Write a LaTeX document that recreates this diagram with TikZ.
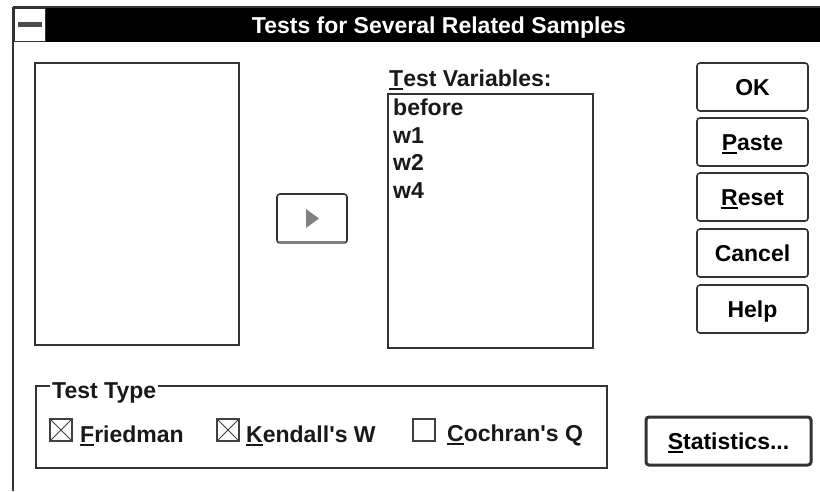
\documentclass[tikz,border=0pt]{standalone}
\usepackage{fontspec}
\setmainfont{Liberation Sans}[Ligatures=TeXOff]
% access-key underline under a single letter
\newcommand\hot[1]{\setbox0\hbox{#1}\rlap{\rule[-3.5pt]{\wd0}{1.8pt}}\box0}
\begin{document}
\begin{tikzpicture}[x=1pt,y=-1pt,
  font=\fontsize{23}{27}\selectfont\bfseries,
  edge/.style={draw=black!80, line width=1.6pt},
  listbox/.style={edge, anchor=north west, inner sep=0pt},
  pushbtn/.style={edge, rounded corners=3pt, minimum width=111pt, minimum height=48pt,
    text height=16pt, text depth=0pt, inner sep=0pt},
  defbtn/.style={pushbtn, line width=3pt, minimum width=165pt},
  txt/.style={anchor=base west, inner sep=0pt, text=black!90},
  checkbox/.style={draw=black!75, line width=1.3pt, minimum size=22pt, inner sep=0pt},
]
\useasboundingbox (0,0) rectangle (820,491);
\fill[white] (0,0) rectangle (820,491);

% window frame and caption bar
\fill[black] (13,7) rectangle (820,42);
\draw[edge] (13,7) -- (820,7);
\draw[edge] (13,7) -- (13,491);
\node[fill=white, draw=black!80, line width=1pt, minimum width=31pt, minimum height=33pt,
  inner sep=0pt] (sysmenu) at (29.5,24.5) {};
\fill[black!70] ([xshift=-11.5pt,yshift=-2pt]sysmenu.center) rectangle ([xshift=12.5pt,yshift=2.5pt]sysmenu.center);
\node[anchor=base, inner sep=0pt, text=white] (caption) at (439,33) {Tests for Several Related Samples};

% source variable list
\node[listbox, minimum width=204pt, minimum height=282pt] (srclist) at (34,62) {};

% move button
\node[edge, rounded corners=3pt, minimum width=70pt, minimum height=49pt, inner sep=0pt] (movebtn) at (312,218.5) {};
\draw[gray, line width=3pt] ([xshift=3pt,yshift=1.5pt]movebtn.south west) -- ([xshift=-3pt,yshift=1.5pt]movebtn.south east);
\fill[gray] ([xshift=-6pt,yshift=9.5pt]movebtn.center) -- ([xshift=7pt]movebtn.center) -- ([xshift=-6pt,yshift=-9.5pt]movebtn.center) -- cycle;

% test variable list
\node[txt] (varlabel) at (389,86) {\hot{T}est Variables:};
\node[listbox, minimum width=205pt, minimum height=254pt] (varlist) at (387,93) {};
\node[txt] (v1) at (393,115) {before};
\node[txt] (v2) at (393,143) {w1};
\node[txt] (v3) at (393,170) {w2};
\node[txt] (v4) at (393,198) {w4};

% command buttons
\node[pushbtn] (okbtn) at (752.5,87) {OK};
\node[pushbtn] (pastebtn) at (752.5,142) {\hot{P}aste};
\node[pushbtn] (resetbtn) at (752.5,197) {\hot{R}eset};
\node[pushbtn] (cancelbtn) at (752.5,253) {Cancel};
\node[pushbtn] (helpbtn) at (752.5,309) {Help};

% test type group
\node[listbox, minimum width=571pt, minimum height=82pt] (group) at (35,385) {};
\node[txt, fill=white, inner xsep=2pt, inner ysep=3pt] (grouplabel) at (50,398) {Test Type};

\node[checkbox] (cbf) at (61,430) {};
\draw[black!75, line width=1pt] (cbf.north west) -- (cbf.south east) (cbf.north east) -- (cbf.south west);
\node[txt] (lbf) at (80,442) {\hot{F}riedman};

\node[checkbox] (cbk) at (228,430) {};
\draw[black!75, line width=1pt] (cbk.north west) -- (cbk.south east) (cbk.north east) -- (cbk.south west);
\node[txt] (lbk) at (246,442) {\hot{K}endall's W};

\node[checkbox] (cbc) at (424,430) {};
\node[txt] (lbc) at (447,441) {\hot{C}ochran's Q};

% statistics button
\node[defbtn] (statbtn) at (728.5,441) {\hot{S}tatistics...};
\end{tikzpicture}
\end{document}
